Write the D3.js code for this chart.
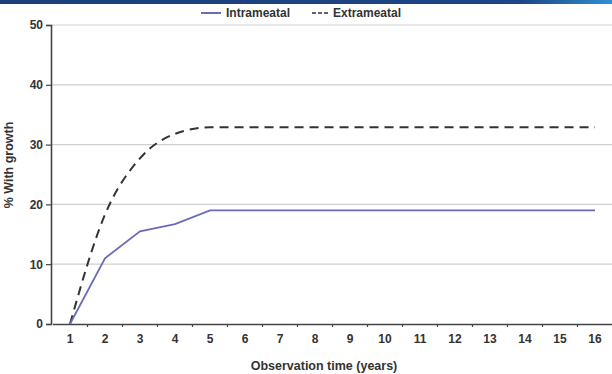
<!DOCTYPE html>
<html><head><meta charset="utf-8">
<script src="https://cdn.jsdelivr.net/npm/d3@7"></script>
<style>body{margin:0;background:#fff;}svg{display:block;font-family:Arial,"Liberation Sans",sans-serif;}</style>
</head><body>
<svg id="c" width="612" height="374"></svg>
<script>
const categories = ["1","2","3","4","5","6","7","8","9","10","11","12","13","14","15","16"];
const intrameatal = [0, 11, 15.5, 16.7, 19, 19, 19, 19, 19, 19, 19, 19, 19, 19, 19, 19];
const extrameatal = [0, 18.3, 27.7, 31.8, 32.9, 32.9, 32.9, 32.9, 32.9, 32.9, 32.9, 32.9, 32.9, 32.9, 32.9, 32.9];
const yTicks = [0, 10, 20, 30, 40, 50];
const seriesNames = ["Intrameatal", "Extrameatal"];

const svg = d3.select("#c");
const defs = svg.append("defs");
const g1 = defs.append("linearGradient").attr("id","ban");
g1.append("stop").attr("offset","0").attr("stop-color","#1c3f7c");
g1.append("stop").attr("offset","0.85").attr("stop-color","#1d4585");
g1.append("stop").attr("offset","1").attr("stop-color","#2f8fd0");
svg.append("rect").attr("x",0).attr("y",0).attr("width",612).attr("height",4).attr("fill","url(#ban)");

const x = d3.scaleBand().domain(categories).range([52.5, 612.5]);
const y = d3.scaleLinear().domain([0, 50]).range([324, 25]);
const xl = 51;

svg.append("g").selectAll("line").data(yTicks.filter(d=>d>0)).join("line")
  .attr("x1", xl).attr("x2", 612).attr("y1", d=>y(d)).attr("y2", d=>y(d))
  .attr("stroke", "#cfcfcf").attr("stroke-width", 1.2);

const ya = svg.append("g").attr("transform", `translate(${xl},0)`)
  .call(d3.axisLeft(y).tickValues(yTicks).tickSize(5).tickPadding(3));
ya.select(".domain").attr("stroke","#444").attr("stroke-width",1.6);
ya.selectAll(".tick line").attr("stroke","#444").attr("stroke-width",1.2);
ya.selectAll(".tick text").attr("font-size","12px").attr("font-weight","bold").attr("fill","#333")
  .attr("font-family","Arial, 'Liberation Sans', sans-serif");

const xa = svg.append("g").attr("transform", `translate(0,${y(0)})`)
  .call(d3.axisBottom(x).tickSize(0).tickPadding(10));
xa.select(".domain").attr("stroke","#444").attr("stroke-width",1.6);
xa.selectAll(".tick text").attr("font-size","12px").attr("font-weight","bold").attr("fill","#333")
  .attr("font-family","Arial, 'Liberation Sans', sans-serif");
svg.append("g").selectAll("line").data(categories.slice(1)).join("line")
  .attr("x1", d=>x(d)).attr("x2", d=>x(d)).attr("y1", y(0)).attr("y2", y(0)+3)
  .attr("stroke","#444").attr("stroke-width",1.2);

const cx = i => x(categories[i]) + x.bandwidth()/2;

svg.append("path").datum(extrameatal)
  .attr("d", d3.line().x((d,i)=>cx(i)).y(d=>y(d)).curve(d3.curveMonotoneX))
  .attr("fill","none").attr("stroke","#333").attr("stroke-width",2).attr("stroke-dasharray","9,6");
svg.append("path").datum(intrameatal)
  .attr("d", d3.line().x((d,i)=>cx(i)).y(d=>y(d)))
  .attr("fill","none").attr("stroke","#6b6bb8").attr("stroke-width",1.8);

svg.append("text").attr("x", 324).attr("y", 370).attr("text-anchor","middle")
  .attr("font-size","12.5px").attr("font-weight","bold").attr("fill","#333").text("Observation time (years)");
svg.append("text").attr("transform","translate(13,165) rotate(-90)").attr("text-anchor","middle")
  .attr("font-size","12.5px").attr("font-weight","bold").attr("fill","#333").text("% With growth");

const lg = svg.append("g");
lg.append("line").attr("x1",201).attr("x2",221).attr("y1",13).attr("y2",13).attr("stroke","#6b6bb8").attr("stroke-width",2);
lg.append("text").attr("x",226).attr("y",17).attr("font-size","12px").attr("font-weight","bold").attr("fill","#333").text(seriesNames[0]);
lg.append("line").attr("x1",312).attr("x2",328).attr("y1",13).attr("y2",13).attr("stroke","#333").attr("stroke-width",1.5).attr("stroke-dasharray","4,2");
lg.append("text").attr("x",333).attr("y",17).attr("font-size","12px").attr("font-weight","bold").attr("fill","#333").text(seriesNames[1]);
</script>
</body></html>
